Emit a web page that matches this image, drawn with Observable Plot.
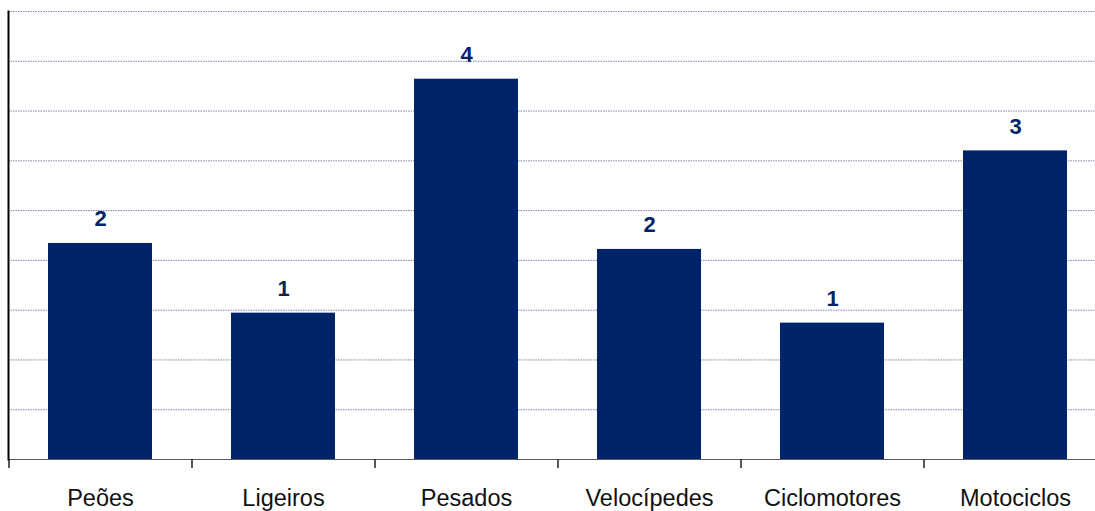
<!DOCTYPE html>
<html>
<head>
<meta charset="utf-8">
<script src="https://cdn.jsdelivr.net/npm/d3@7"></script>
<script src="https://cdn.jsdelivr.net/npm/@observablehq/plot@0.6"></script>
<style>
  html, body { margin: 0; padding: 0; background: #fff; }
  #chart svg { display: block; }
</style>
</head>
<body>
<div id="chart"></div>
<script>
const categories = ["Peões", "Ligeiros", "Pesados", "Velocípedes", "Ciclomotores", "Motociclos"];
const values = [2.17, 1.47, 3.82, 2.11, 1.37, 3.10];
const gridTicks = [0.5, 1, 1.5, 2, 2.5, 3, 3.5, 4, 4.5];

const data = categories.map((c, i) => ({category: c, value: values[i]}));

const W = 1095, H = 511;
const xRange = [8, 1106];
const step = (xRange[1] - xRange[0]) / categories.length;
const navy = "#002469";
const font = "'Liberation Sans', Arial, sans-serif";

const chart = Plot.plot({
  width: W,
  height: H,
  marginLeft: 8,
  marginRight: 0,
  marginTop: 11,
  marginBottom: 52,
  style: {fontFamily: font, background: "#fff"},
  x: {type: "band", domain: categories, range: xRange, paddingInner: 0.432, paddingOuter: 0.216, label: null},
  y: {domain: [0, 4.5], label: null, axis: null},
  marks: [
    Plot.ruleY(gridTicks, {stroke: "#7d88a6", strokeWidth: 1, strokeDasharray: "1.5,1"}),
    Plot.barY(data, {x: "category", y: "value", fill: navy}),
    Plot.ruleY([0], {stroke: "#5a5a5a", strokeWidth: 1}),
    Plot.ruleX(categories, {x: d => d, y1: 0, y2: 0, insetBottom: -9, dx: -step / 2, stroke: "#222", strokeWidth: 1.5}),
    Plot.frame({anchor: "left", stroke: "#000", strokeWidth: 2}),
    Plot.text(data, {
      x: "category", y: "value", text: d => String(Math.round(d.value)),
      lineAnchor: "bottom", dy: -17, fill: navy, fontWeight: "bold", fontSize: 22, fontFamily: font
    }),
    Plot.axisX({tickSize: 0, tickPadding: 30, fontSize: 23.5, fill: "#111", fontFamily: font, label: null})
  ]
});
document.getElementById("chart").appendChild(chart);
</script>
</body>
</html>
